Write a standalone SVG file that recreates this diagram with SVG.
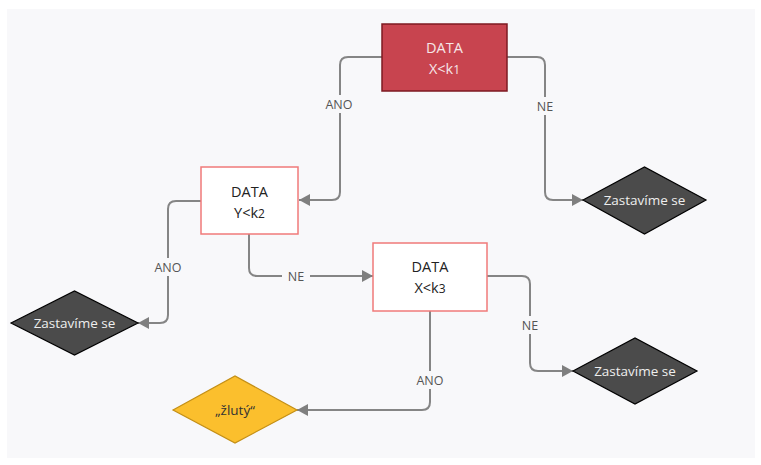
<svg xmlns="http://www.w3.org/2000/svg" width="761" height="465" viewBox="0 0 761 465">
  <defs>
    <marker id="arrow" markerUnits="userSpaceOnUse" markerWidth="12" markerHeight="12" viewBox="0 0 12 12" refX="11" refY="6" orient="auto">
      <path d="M0,0 L11,6 L0,12 Z" fill="#7f7f7f"/>
    </marker>
    <style>
      .edge { fill: none; stroke: #858585; stroke-width: 2; marker-end: url(#arrow); }
      .lbl-bg { fill: #f8f8fa; }
      .lbl { font-family: "Open Sans", "Liberation Sans", sans-serif; font-size: 12.5px; fill: #555; text-anchor: middle; dominant-baseline: central; }
      .box { fill: #ffffff; stroke: #f07a7a; stroke-width: 1.5; }
      .box-hot { fill: #c8444f; stroke: #7d1a22; stroke-width: 1.5; }
      .txt { font-family: "Open Sans", "Liberation Sans", sans-serif; font-size: 14.5px; fill: #222; text-anchor: middle; }
      .txt-hot { fill: #f6e6e8; }
      .sub { font-size: 12px; }
      .stop { fill: #4b4b4b; stroke: #000; stroke-width: 1.2; }
      .stop-txt { font-family: "Open Sans", "Liberation Sans", sans-serif; font-size: 13.5px; fill: #eeeeee; text-anchor: middle; dominant-baseline: central; }
      .warn { fill: #fbbf2d; stroke: #c48f15; stroke-width: 1.2; }
      .warn-txt { font-family: "Open Sans", "Liberation Sans", sans-serif; font-size: 13.5px; fill: #333; text-anchor: middle; dominant-baseline: central; }
    </style>
  </defs>

  <rect x="0" y="0" width="761" height="465" fill="#ffffff"/>
  <rect x="7" y="9" width="748" height="449" fill="#f8f8fa"/>

  <g id="connectors">
    <path class="edge" d="M382,57 H348 Q340,57 340,65 V192 Q340,200 332,200 H299"/>
    <path class="edge" d="M507,57 H537 Q545,57 545,65 V192 Q545,200 553,200 H583"/>
    <path class="edge" d="M201,201 H176 Q168,201 168,209 V315 Q168,323 160,323 H138"/>
    <path class="edge" d="M249,234 V268 Q249,276 257,276 H373"/>
    <path class="edge" d="M487,276 H522 Q530,276 530,284 V363 Q530,371 538,371 H573"/>
    <path class="edge" d="M430,311 V402 Q430,410 422,410 H297"/>

    <rect class="lbl-bg" x="320" y="95" width="38" height="18"/>
    <text class="lbl" x="339" y="104">ANO</text>
    <rect class="lbl-bg" x="531" y="97" width="28" height="18"/>
    <text class="lbl" x="545" y="106">NE</text>
    <rect class="lbl-bg" x="149" y="258" width="38" height="18"/>
    <text class="lbl" x="168" y="267">ANO</text>
    <rect class="lbl-bg" x="282" y="267" width="28" height="18"/>
    <text class="lbl" x="296" y="276">NE</text>
    <rect class="lbl-bg" x="516" y="316" width="28" height="18"/>
    <text class="lbl" x="530" y="325">NE</text>
    <rect class="lbl-bg" x="411" y="371" width="38" height="18"/>
    <text class="lbl" x="430" y="380">ANO</text>
  </g>

  <g id="node-x-k1">
    <rect class="box-hot" x="382" y="24" width="125" height="67"/>
    <text class="txt txt-hot" x="444.5" y="53">DATA</text>
    <text class="txt txt-hot" x="444.5" y="74">X&lt;k<tspan class="sub">1</tspan></text>
  </g>

  <g id="node-y-k2">
    <rect class="box" x="201" y="167" width="97" height="67"/>
    <text class="txt" x="249.5" y="197">DATA</text>
    <text class="txt" x="249.5" y="218">Y&lt;k<tspan class="sub">2</tspan></text>
  </g>

  <g id="node-x-k3">
    <rect class="box" x="373" y="243" width="114" height="68"/>
    <text class="txt" x="430" y="272">DATA</text>
    <text class="txt" x="430" y="293">X&lt;k<tspan class="sub">3</tspan></text>
  </g>

  <g id="stop-top">
    <polygon class="stop" points="583,200 644.5,167 706,200 644.5,234"/>
    <text class="stop-txt" x="644.5" y="200">Zastavíme se</text>
  </g>

  <g id="stop-left">
    <polygon class="stop" points="11,323 74.5,291 138,323 74.5,355"/>
    <text class="stop-txt" x="74.5" y="323">Zastavíme se</text>
  </g>

  <g id="stop-bottom">
    <polygon class="stop" points="573,371 635,338 697,371 635,404"/>
    <text class="stop-txt" x="635" y="371">Zastavíme se</text>
  </g>

  <g id="result-yellow">
    <polygon class="warn" points="173,410 235,376 297,410 235,443"/>
    <text class="warn-txt" x="235" y="410">„žlutý“</text>
  </g>
</svg>
